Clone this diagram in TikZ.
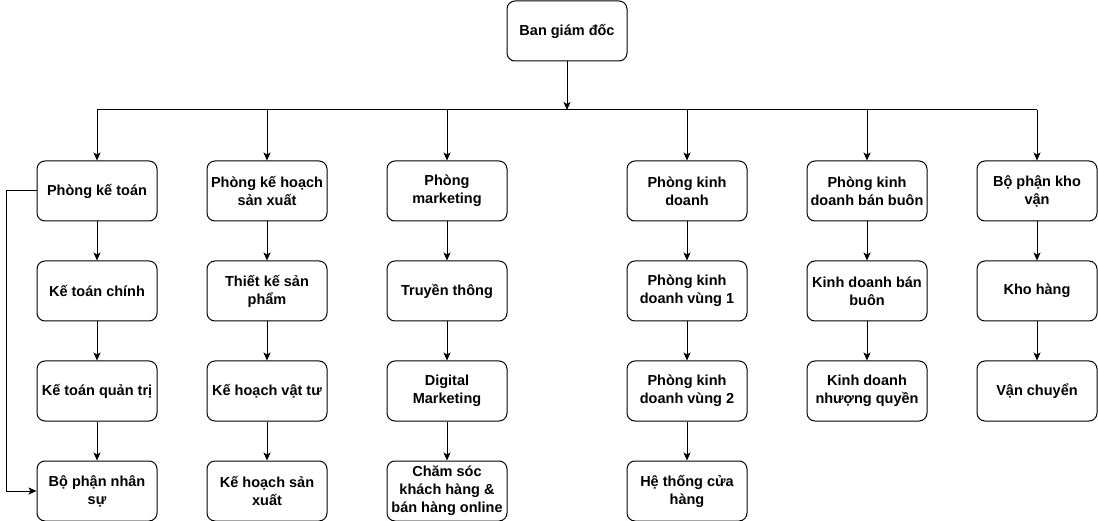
\documentclass[tikz,border=0pt]{standalone}
\usepackage{fontspec}
\setmainfont{Liberation Sans}
\usetikzlibrary{arrows.meta}
\begin{document}
\begin{tikzpicture}[x=1pt,y=-1pt,
  box/.style={draw,line width=1pt,rounded corners=8pt,minimum width=120pt,minimum height=60pt,
    inner sep=1pt,align=center,font=\fontsize{14.5}{18}\selectfont\bfseries},
  arr/.style={line width=1pt,-{Stealth[length=8pt,width=7pt,inset=2pt]}},
  ln/.style={line width=1pt}]
\useasboundingbox (0,0) rectangle (1098,521);
\node[box] (top) at (567,31) {Ban giám đốc};
\coordinate (bus) at (567,110);
% column 1
\node[box] (a1) at (97,191) {Phòng kế toán};
\node[box] (a2) at (97,291) {Kế toán chính};
\node[box] (a3) at (97,391) {Kế toán quản trị};
\node[box] (a4) at (97,491) {Bộ phận nhân\\sự};
% column 2
\node[box] (b1) at (267,191) {Phòng kế hoạch\\sản xuất};
\node[box] (b2) at (267,291) {Thiết kế sản\\phẩm};
\node[box] (b3) at (267,391) {Kế hoạch vật tư};
\node[box] (b4) at (267,491) {Kế hoạch sản\\xuất};
% column 3
\node[box] (c1) at (447,191) {Phòng\\marketing};
\node[box] (c2) at (447,291) {Truyền thông};
\node[box] (c3) at (447,391) {Digital\\Marketing};
\node[box] (c4) at (447,491) {Chăm sóc\\khách hàng \&\\bán hàng online};
% column 4
\node[box] (d1) at (687,191) {Phòng kinh\\doanh};
\node[box] (d2) at (687,291) {Phòng kinh\\doanh vùng 1};
\node[box] (d3) at (687,391) {Phòng kinh\\doanh vùng 2};
\node[box] (d4) at (687,491) {Hệ thống cửa\\hàng};
% column 5
\node[box] (e1) at (867,191) {Phòng kinh\\doanh bán buôn};
\node[box] (e2) at (867,291) {Kinh doanh bán\\buôn};
\node[box] (e3) at (867,391) {Kinh doanh\\nhượng quyền};
% column 6
\node[box] (f1) at (1037,191) {Bộ phận kho\\vận};
\node[box] (f2) at (1037,291) {Kho hàng};
\node[box] (f3) at (1037,391) {Vận chuyển};
% bus
\coordinate (ba) at (97,110);
\coordinate (bb) at (267,110);
\coordinate (bc) at (447,110);
\coordinate (bd) at (687,110);
\coordinate (be) at (867,110);
\coordinate (bf) at (1037,110);
\draw[arr] (top.south) -- (bus);
\draw[ln] (ba) -- (bf);
\foreach \b/\n in {ba/a1,bb/b1,bc/c1,bd/d1,be/e1,bf/f1}
  \draw[arr] (\b) -- (\n.north);
\foreach \p/\q in {a1/a2,a2/a3,a3/a4,b1/b2,b2/b3,b3/b4,c1/c2,c2/c3,c3/c4,d1/d2,d2/d3,d3/d4,e1/e2,e2/e3,f1/f2,f2/f3}
  \draw[arr] (\p.south) -- (\q.north);
\draw[arr] (a1.west) -- ++(-30,0) |- (a4.west);
\end{tikzpicture}
\end{document}
